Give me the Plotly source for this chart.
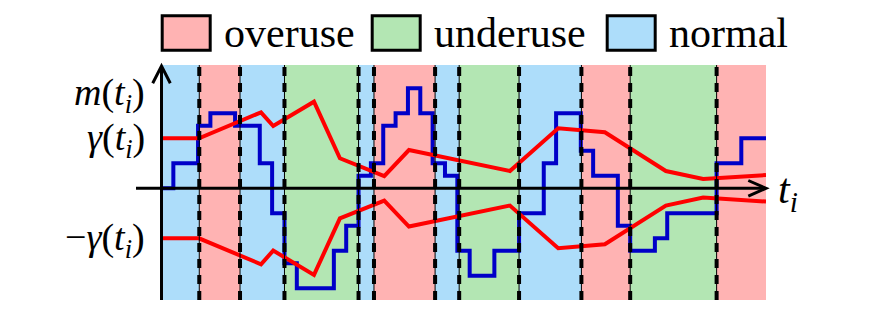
import plotly.graph_objects as go

# ---------------- data ----------------
# step function m(t_i): value holds from step_t[k] until step_t[k+1]
step_t = [0, 1, 3, 4, 6, 8, 9, 10, 11, 14, 15, 16, 17, 18, 19, 20, 21, 22, 23, 24,
          25, 27, 29, 31, 32, 34, 35, 37, 38, 40, 41, 45, 47, 49]
m_vals = [0, 2, 5, 6, 5, 2, -2, -6, -8, -5, -3, 1, 2, 5, 6, 8, 6, 2, 1, -5,
          -7, -5, -2, 2, 6, 3, 1, -3, -5, -4, -2, 2, 4, 4]

# threshold gamma(t_i) (upper curve), lower curve is -gamma
gamma_t = [0, 3.08, 8.1, 9.09, 12.39, 14.49, 18.08, 20.08, 28.26, 32.17, 35.95, 40.89, 43.91, 49]
gamma_vals = [4, 4, 6.08, 4.98, 6.93, 2.4, 0.98, 3.06, 1.38, 4.8, 4.48, 1.38, 0.74, 1.06]

# detector state regions
region_edges = [0, 3.1, 6.4, 10, 16, 17.25, 22.2, 24.15, 29, 34.05, 38, 45, 49]
region_states = ["normal", "overuse", "normal", "underuse", "normal", "overuse",
                 "normal", "underuse", "normal", "overuse", "underuse", "overuse"]

legend_states = ["overuse", "underuse", "normal"]

# ---------------- style ----------------
state_colors = {"overuse": "#FFB3B3", "underuse": "#B3E6B3", "normal": "#ADDDFA"}
W, H = 892, 330
L, R, T, B = 161, 126, 65, 30
PW, PH = W - L - R, H - T - B
Y_RANGE = [-8.936, 9.864]
SERIF = "Liberation Serif, DejaVu Serif, serif"


def px(x):
    return (x - L) / PW


def py(y):
    return (H - B - y) / PH


fig = go.Figure()

fig.add_trace(go.Scatter(x=step_t, y=m_vals, mode="lines", line=dict(color="#0000C8", width=4, shape="hv"),
                         showlegend=False, hoverinfo="skip"))
fig.add_trace(go.Scatter(x=gamma_t, y=gamma_vals, mode="lines", line=dict(color="#FF0000", width=4),
                         showlegend=False, hoverinfo="skip"))
fig.add_trace(go.Scatter(x=gamma_t, y=[-g for g in gamma_vals], mode="lines",
                         line=dict(color="#FF0000", width=4), showlegend=False, hoverinfo="skip"))

shapes = []
for i, st in enumerate(region_states):
    shapes.append(dict(type="rect", xref="x", yref="paper", x0=region_edges[i], x1=region_edges[i + 1],
                       y0=0, y1=1, fillcolor=state_colors[st], line=dict(width=0), layer="below"))
for e in region_edges[1:-1]:
    shapes.append(dict(type="line", xref="x", yref="paper", x0=e, x1=e, y0=0, y1=1,
                       line=dict(color="black", width=1), layer="above"))
    shapes.append(dict(type="line", xref="x", yref="paper", x0=e, x1=e, y0=0, y1=1,
                       line=dict(color="black", width=4, dash="9px,7px"), layer="above"))

# axes
shapes.append(dict(type="line", xref="paper", yref="y", x0=px(136), x1=px(765), y0=0, y1=0,
                   line=dict(color="black", width=3), layer="above"))
shapes.append(dict(type="line", xref="paper", yref="paper", x0=px(161.5), x1=px(161.5), y0=0, y1=py(66.5),
                   line=dict(color="black", width=3), layer="above"))
# arrow heads (open chevrons)
shapes.append(dict(type="path", xref="paper", yref="paper",
                   path=f"M {px(152.7)} {py(83.3)} L {px(161.5)} {py(66)} L {px(170.3)} {py(83.3)}",
                   line=dict(color="black", width=3), layer="above"))
shapes.append(dict(type="path", xref="paper", yref="paper",
                   path=f"M {px(748.3)} {py(180.5)} L {px(766)} {py(188.3)} L {px(748.3)} {py(196.1)}",
                   line=dict(color="black", width=3), layer="above"))

annotations = []
# legend
leg_box_x = [160.7, 370.7, 605.7]
for st, bx in zip(legend_states, leg_box_x):
    shapes.append(dict(type="rect", xref="paper", yref="paper", x0=px(bx + 1.5), x1=px(bx + 49.5),
                       y0=py(50.2), y1=py(15.8), fillcolor=state_colors[st],
                       line=dict(color="black", width=3)))
    annotations.append(dict(xref="paper", yref="paper", x=px(bx + 61), y=py(33), xanchor="left",
                            yanchor="middle", text=st, showarrow=False,
                            font=dict(family=SERIF, size=42, color="black")))

lab_font = dict(family=SERIF, size=38, color="black")
labels = [("<i>m</i>(<i>t</i><sub><i>i</i></sub>)", 95),
          ("<i>γ</i>(<i>t</i><sub><i>i</i></sub>)", 140),
          ("−<i>γ</i>(<i>t</i><sub><i>i</i></sub>)", 240)]
for txt, yy in labels:
    annotations.append(dict(xref="paper", yref="paper", x=px(147), y=py(yy), xanchor="right",
                            yanchor="middle", text=txt, showarrow=False, font=lab_font))
annotations.append(dict(xref="paper", yref="paper", x=px(776), y=py(192), xanchor="left",
                        yanchor="middle", text="<i>t</i><sub><i>i</i></sub>", showarrow=False,
                        font=dict(family=SERIF, size=42, color="black")))

fig.update_layout(
    width=W, height=H, margin=dict(l=L, r=R, t=T, b=B),
    plot_bgcolor="white", paper_bgcolor="white",
    font=dict(family=SERIF),
    xaxis=dict(range=[0, 49], visible=False),
    yaxis=dict(range=Y_RANGE, visible=False),
    shapes=shapes, annotations=annotations, showlegend=False,
)
fig.write_html("out.html")
